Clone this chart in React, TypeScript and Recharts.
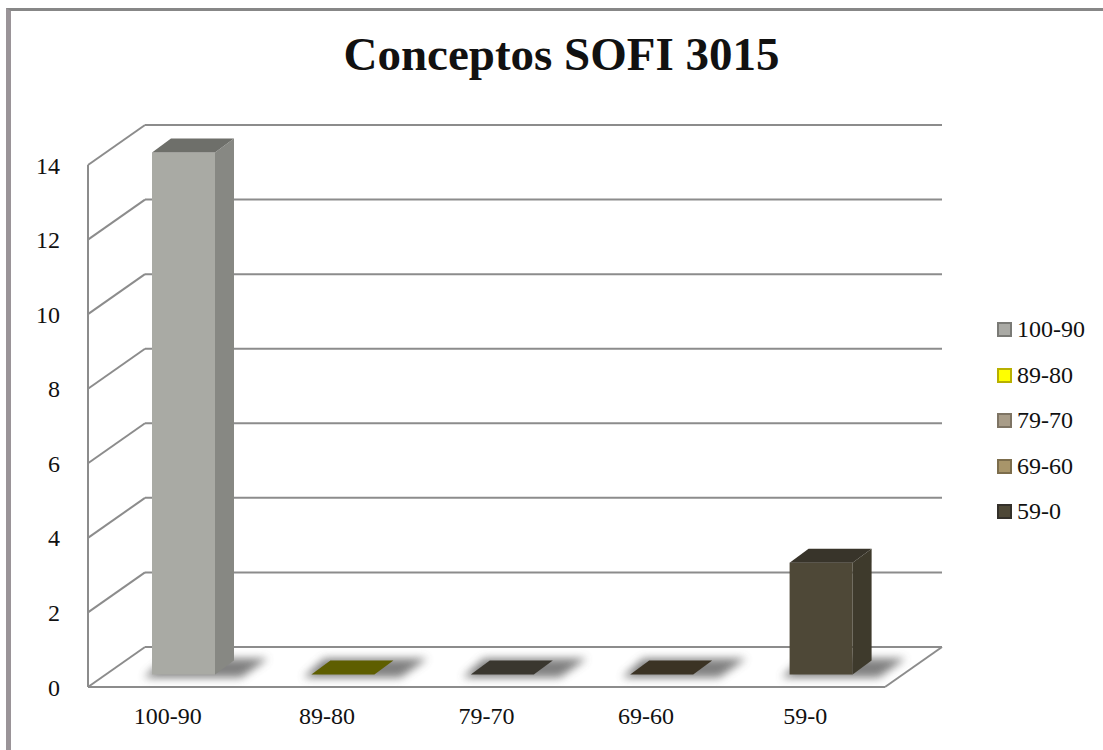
import { BarChart, Bar, XAxis, YAxis, CartesianGrid } from 'recharts'

const categories = ['100-90', '89-80', '79-70', '69-60', '59-0']
const counts = [14, 0, 0, 0, 3]
const yTicks = [0, 2, 4, 6, 8, 10, 12, 14]

// legend swatches
const LEGEND_COLORS = ['#AAAAA5', '#FFFF00', '#A89C88', '#A8956A', '#4E4837']
const LEGEND_BORDERS = ['#7a7a76', '#b8b000', '#7e7464', '#7c6d4c', '#33302a']
// shaded faces of the 3d bars
const FRONT = ['#A9AAA4', '#8a8a00', '#55513f', '#574b34', '#4E4837']
const SIDE = ['#878883', '#6c6c00', '#45412f', '#463c28', '#3E3A2C']
const TOP = ['#6E6F6A', '#5E5E00', '#3A372F', '#3B3324', '#38342A']

const FONT = '"Liberation Serif", "DejaVu Serif", serif'
const GRID = '#8c8c8c'
const DEPTH_X = 57
const DEPTH_Y = -40
const PLOT_BOTTOM = 687

const data = categories.map((name, i) => ({ name, value: counts[i] }))

function gridLine(props: any) {
  const { x1, y1, x2 } = props
  const bx = x1 + DEPTH_X
  const by = y1 + DEPTH_Y
  const isFloor = Math.abs(y1 - PLOT_BOTTOM) < 1
  return (
    <g key={`grid-${y1}`}>
      <line x1={x1} y1={y1} x2={bx} y2={by} stroke={GRID} strokeWidth={2} />
      <line x1={bx} y1={by} x2={x2 + DEPTH_X} y2={by} stroke={GRID} strokeWidth={2} />
      {isFloor && (
        <>
          <line x1={x1} y1={y1} x2={x2} y2={y1} stroke={GRID} strokeWidth={2} />
          <line x1={x2} y1={y1} x2={x2 + DEPTH_X} y2={by} stroke={GRID} strokeWidth={2} />
        </>
      )}
    </g>
  )
}

function Bar3D(props: any) {
  const { x, y, width, height, index } = props
  const fx = x + 16
  const fy = y - 12.5
  const w = width
  const h = Math.max(height || 0, 0)
  const dx = 19
  const dy = -14
  const base = fy + h
  return (
    <g>
      <defs>
        <filter id="barShadow" x="-50%" y="-50%" width="200%" height="200%">
          <feGaussianBlur stdDeviation="4" />
        </filter>
      </defs>
      <polygon
        points={`${fx - 8},${base + 3} ${fx + w + 26},${base + 3} ${fx + w + dx + 34},${base + dy - 2} ${fx + dx - 6},${base + dy - 2}`}
        fill="#555"
        opacity={0.75}
        filter="url(#barShadow)"
      />
      {h > 0 && <rect x={fx} y={fy} width={w} height={h} fill={FRONT[index]} />}
      {h > 0 && (
        <polygon
          points={`${fx + w},${fy} ${fx + w + dx},${fy + dy} ${fx + w + dx},${base + dy} ${fx + w},${base}`}
          fill={SIDE[index]}
        />
      )}
      <polygon
        points={`${fx},${fy} ${fx + dx},${fy + dy} ${fx + w + dx},${fy + dy} ${fx + w},${fy}`}
        fill={TOP[index]}
      />
    </g>
  )
}

export default function App() {
  return (
    <div style={{ position: 'absolute', left: 0, top: 0, width: 1103, height: 750, overflow: 'hidden', background: '#fff' }}>
      {/* outer frame */}
      <div
        style={{
          position: 'absolute',
          left: 6,
          top: 8,
          width: 1200,
          height: 800,
          borderTop: '3px solid #878787',
          borderLeft: '5px solid #9a9498',
        }}
      />
      <div
        style={{
          position: 'absolute',
          left: 0,
          top: 29,
          width: 1123,
          textAlign: 'center',
          fontFamily: FONT,
          fontWeight: 'bold',
          fontSize: 47,
          lineHeight: '50px',
          color: '#111',
        }}
      >
        Conceptos SOFI 3015
      </div>
      <div style={{ position: 'absolute', left: 0, top: 0 }}>
        <BarChart
          width={1103}
          height={750}
          data={data}
          margin={{ top: 165, right: 218, bottom: 23, left: 28 }}
          barSize={63}
        >
          <CartesianGrid vertical={false} horizontal={gridLine} />
          <XAxis
            dataKey="name"
            axisLine={false}
            tickLine={false}
            tickSize={0}
            tickMargin={20}
            height={40}
            interval={0}
            tick={{ fill: '#111', fontSize: 24, fontFamily: FONT }}
          />
          <YAxis
            domain={[0, 14]}
            ticks={yTicks}
            width={60}
            axisLine={{ stroke: GRID, strokeWidth: 2 }}
            tickLine={false}
            tickSize={0}
            tickMargin={28}
            tick={{ fill: '#111', fontSize: 24, fontFamily: FONT }}
          />
          <Bar dataKey="value" isAnimationActive={false} shape={(p: any) => <Bar3D {...p} />} />
        </BarChart>
      </div>
      {/* legend */}
      <div style={{ position: 'absolute', left: 997, top: 307, fontFamily: FONT, fontSize: 24, color: '#111' }}>
        {categories.map((c, i) => (
          <div key={c} style={{ height: 45.5, display: 'flex', alignItems: 'center' }}>
            <span
              style={{
                display: 'inline-block',
                width: 11,
                height: 11,
                background: LEGEND_COLORS[i],
                border: `2px solid ${LEGEND_BORDERS[i]}`,
                marginRight: 5,
              }}
            />
            <span>{c}</span>
          </div>
        ))}
      </div>
    </div>
  )
}
